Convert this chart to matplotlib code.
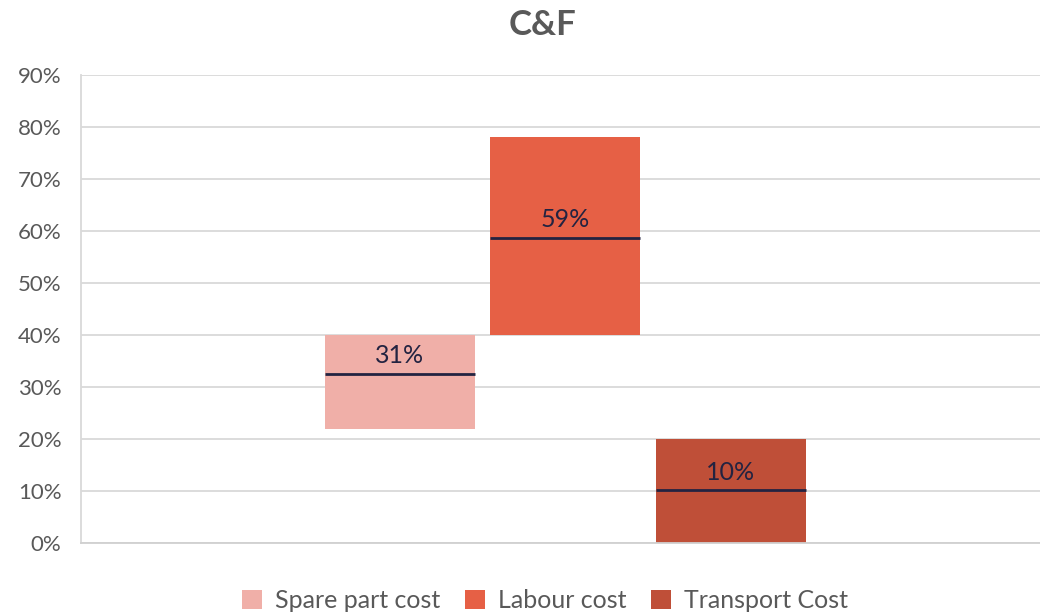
import matplotlib.pyplot as plt
from matplotlib.patches import Patch
from matplotlib.ticker import PercentFormatter

# data
series = ['Spare part cost', 'Labour cost', 'Transport Cost']
lows = [0.22, 0.40, 0.00]
highs = [0.40, 0.78, 0.20]
marks = [0.325, 0.586, 0.101]
labels = ['31%', '59%', '10%']
colors = ['#F0AFA8', '#E66045', '#BF4F38']

plt.rcParams['font.family'] = ['Lato', 'DejaVu Sans']
text_grey = '#595959'
navy = '#232341'

fig = plt.figure(figsize=(10.4, 6.14), dpi=100)
ax = fig.add_axes([81 / 1040, 1 - 543 / 614, 1 - 81 / 1040, (543 - 75) / 614])

x = list(range(len(series)))
width = 150 / 165.5
for i in x:
    ax.bar(i, highs[i] - lows[i], bottom=lows[i], width=width,
           color=colors[i], zorder=2)
    ax.hlines(marks[i], i - width / 2, i + width / 2, color=navy,
              linewidth=2, zorder=3)
    ax.annotate(labels[i], (i, marks[i]), xytext=(0, 5),
                textcoords='offset points', ha='center', va='bottom',
                fontsize=18, color=navy, zorder=4)

ax.set_ylim(0, 0.9)
ax.set_yticks([i / 10 for i in range(10)])
ax.yaxis.set_major_formatter(PercentFormatter(1.0, decimals=0))
ax.set_xlim(-318.5 / 165.5, 640.5 / 165.5)
ax.set_xticks([])
ax.grid(axis='y', color='#d9d9d9', linewidth=1.3, zorder=0)
ax.tick_params(axis='y', length=0, labelsize=16, labelcolor=text_grey, pad=14)
for side in ['top', 'right']:
    ax.spines[side].set_visible(False)
ax.spines['left'].set_color('#d9d9d9')
ax.spines['bottom'].set_color('#d0d0d0')
ax.spines['left'].set_linewidth(1.3)
ax.spines['bottom'].set_linewidth(1.3)

fig.suptitle('C&F', x=0.522, y=0.985, fontsize=25, fontweight='bold',
             color=text_grey, va='top')

handles = [Patch(facecolor=c, label=s) for c, s in zip(colors, series)]
fig.legend(handles=handles, loc='center', bbox_to_anchor=(0.524, 1 - 601 / 614),
           ncol=3, frameon=False, fontsize=18, labelcolor=text_grey,
           handlelength=0.8, handleheight=0.8, handletextpad=0.5,
           columnspacing=1.0)

fig.savefig('out.png', dpi=100)
